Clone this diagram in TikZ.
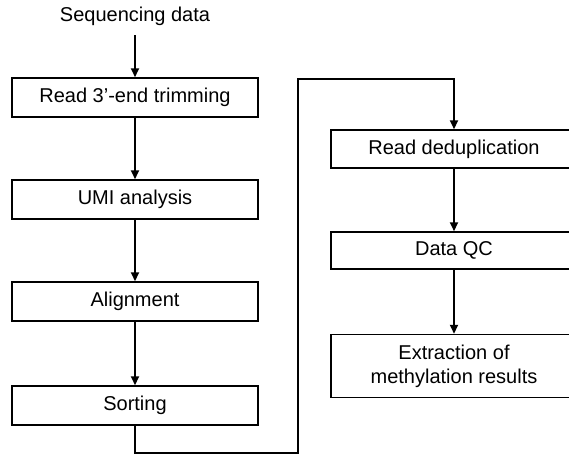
\documentclass[tikz,border=0pt]{standalone}
\usepackage{fontspec}
\setmainfont{Liberation Sans}
\usetikzlibrary{arrows.meta}
\begin{document}
\begin{tikzpicture}[x=1pt,y=-1pt,
  stepbox/.style={draw=black,line width=1.5pt,minimum width=246pt,inner sep=0pt,font=\fontsize{20}{24}\selectfont,align=center},
  conn/.style={line width=2pt,-{Triangle[length=9pt,width=8pt]}},
  plain/.style={line width=2pt}]
\useasboundingbox (0,0) rectangle (569,456);
\clip (0,0) rectangle (569,456);
\fill[white] (0,0) rectangle (569,456);
\node[font=\fontsize{20}{24}\selectfont] (seq) at (135,16) {Sequencing data};
\node[stepbox,minimum height=39pt] (b1) at (135,97.5) {Read 3’-end trimming};
\node[stepbox,minimum height=39pt] (b2) at (135,199.5) {UMI analysis};
\node[stepbox,minimum height=39pt] (b3) at (135,301.5) {Alignment};
\node[stepbox,minimum height=39pt] (b4) at (135,405.5) {Sorting};
\node[stepbox,minimum height=38pt] (r1) at (454,149) {Read deduplication};
\node[stepbox,minimum height=37pt] (r2) at (454,250.5) {Data QC};
\node[stepbox,minimum height=63pt] (r3) at (454,366) {Extraction of\\methylation results};
\coordinate (s0) at (135,35);
\coordinate (k1) at (298,453);
\coordinate (k2) at (298,79);
\draw[conn] (s0) -- (b1.north);
\draw[conn] (b1) -- (b2);
\draw[conn] (b2) -- (b3);
\draw[conn] (b3) -- (b4);
\draw[conn] (b4.south) |- (k1) -- (k2) -| (r1.north);
\draw[conn] (r1) -- (r2);
\draw[conn] (r2) -- (r3);
\end{tikzpicture}
\end{document}
